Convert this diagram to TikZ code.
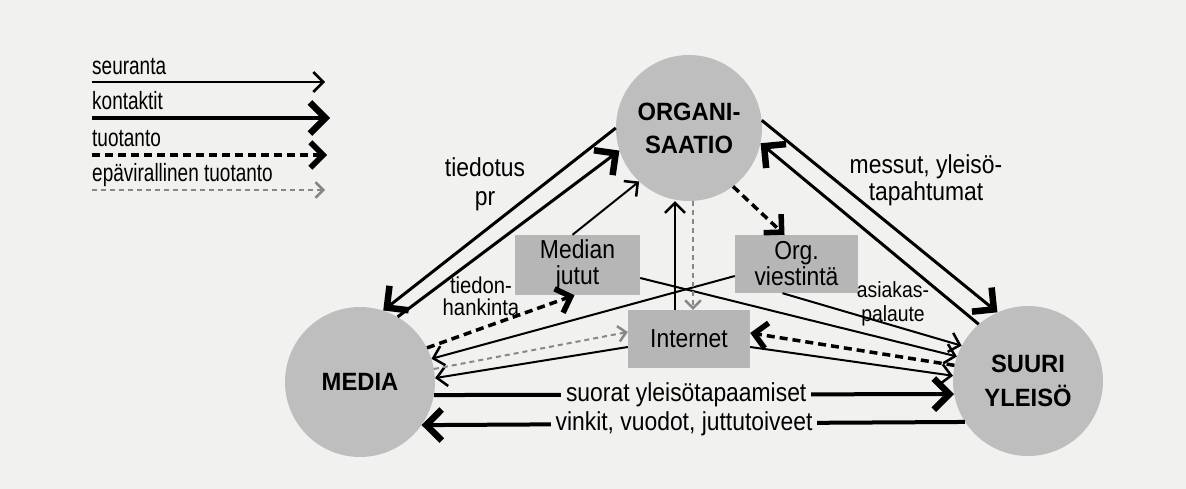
\documentclass[tikz,border=0pt]{standalone}
\usepackage{fontspec}
\setmainfont{Liberation Sans}[FakeStretch=0.88]
\newfontfamily\circfont{Liberation Sans}[FakeStretch=0.95]
\newfontfamily\legfont{Liberation Sans}[FakeStretch=0.76]
\usetikzlibrary{arrows.meta,calc}
\definecolor{bgc}{RGB}{241,241,240}
\definecolor{circc}{RGB}{190,190,190}
\definecolor{boxc}{RGB}{182,182,182}
\definecolor{infc}{RGB}{135,135,135}
\tikzset{
  circ/.style={circle, inner sep=0pt, fill=circc, align=center,
    font=\circfont\bfseries\fontsize{25}{33}\selectfont},
  bx/.style={rectangle, inner sep=0pt, fill=boxc, align=center,
    font=\fontsize{26}{26}\selectfont},
  lbl/.style={inner sep=0pt, align=center},
  leg/.style={inner sep=0pt, anchor=base west, font=\legfont\fontsize{25}{27}\selectfont},
  lab/.style={fill=bgc, inner xsep=5pt, inner ysep=1pt, font=\fontsize{26}{28}\selectfont},
  seur/.style={line width=2pt, -{Straight Barb[angle=90:14pt, line width=2.5pt, sharp]}},
  kont/.style={line width=3pt, -{Straight Barb[angle=90:22pt, line width=6.5pt, sharp]}},
  tuot/.style={line width=3.5pt, dash pattern=on 8pt off 5pt,
    -{Straight Barb[angle=90:18pt, line width=5.5pt, sharp]}},
  epav/.style={draw=infc, line width=2pt, dash pattern=on 5pt off 4pt,
    -{Straight Barb[angle=90:11pt, line width=2.5pt, sharp]}},
}
\begin{document}
\begin{tikzpicture}[x=1pt, y=-1pt]
\fill[bgc] (0,0) rectangle (1186,489);
\useasboundingbox (0,0) rectangle (1186,489);

% main nodes
\node[circ, minimum size=146pt] (o) at (689,128) {ORGANI-\\SAATIO};
\node[circ, minimum size=150pt] (m) at (360,382) {MEDIA};
\node[circ, minimum size=150pt, font=\circfont\bfseries\fontsize{25}{34}\selectfont] (s) at (1028,381) {SUURI\\YLEISÖ};
\node[bx, minimum width=125pt, minimum height=60pt] (mj) at (577.5,265) {Median\\jutut};
\node[bx, minimum width=123pt, minimum height=58pt] (ov) at (796.5,264) {Org.\\viestintä};
\node[bx, minimum width=122pt, minimum height=58pt] (in) at (689,339) {Internet};

% labels
\node[lbl, font=\fontsize{26}{29}\selectfont] (ltp) at (485,184) {tiedotus\\pr};
\node[lbl, font=\fontsize{26}{27}\selectfont] (lmy) at (926,180) {messut, yleisö-\\tapahtumat};
\node[lbl, font=\fontsize{23}{22}\selectfont] (lth) at (481,296) {tiedon-\\hankinta};
\node[lbl, font=\fontsize{22}{24}\selectfont] (lap) at (893,304) {asiakas-\\palaute};

% contacts
\draw[kont] (o.180) -- (m.72);
\draw[kont] (m.60) -- (o.198);
\draw[kont] (o.6) -- (s.114);
\draw[kont] (s.131) -- (o.348);
\draw[kont, line width=4pt] (m.350) -- node[lab, pos=0.485] (lsy) {suorat yleisötapaamiset} (s.190);
\draw[kont, line width=4pt] (s.213) -- node[lab, pos=0.517] (lvv) {vinkit, vuodot, juttutoiveet} (m.325);

% seuranta
\draw[seur] ([xshift=-5pt]mj.north) -- (o.227);
\draw[seur] ([xshift=-14pt]in.north) -- ([xshift=-14pt]o.south);
\draw[seur] ([yshift=-13pt]mj.east) -- (s.161);
\draw[seur] ([xshift=-14pt]ov.south) -- (s.152);
\draw[seur] ([yshift=-12pt]ov.west) -- (m.18);
\draw[seur] ([yshift=-8pt]in.west) -- (m.3);
\draw[seur] ([yshift=-8pt]in.east) -- (s.176);

% tuotanto
\draw[tuot] (m.27) -- ([xshift=-3pt]mj.south);
\draw[tuot] (o.307) -- ([xshift=-12pt]ov.north);
\draw[tuot] (s.168) -- ([yshift=6pt]in.east);

% epavirallinen tuotanto
\draw[epav] (m.10) -- ([yshift=7pt]in.west);
\draw[epav] ([xshift=4pt]o.south) -- ([xshift=4pt]in.north);

% legend
\node[leg] (g1) at (92,75) {seuranta};
\node[leg] (g2) at (92,110) {kontaktit};
\node[leg] (g3) at (92,147) {tuotanto};
\node[leg] (g4) at (92,182) {epävirallinen tuotanto};
\coordinate (a1) at (92,82);  \coordinate (b1) at (325,82);
\coordinate (a2) at (92,118); \coordinate (b2) at (330,118);
\coordinate (a3) at (92,155); \coordinate (b3) at (327,155);
\coordinate (a4) at (92,190); \coordinate (b4) at (325,190);
\draw[seur, line width=2.5pt] (a1) -- (b1);
\draw[kont, line width=4pt] (a2) -- (b2);
\draw[tuot] (a3) -- (b3);
\draw[epav] (a4) -- (b4);
\end{tikzpicture}
\end{document}
